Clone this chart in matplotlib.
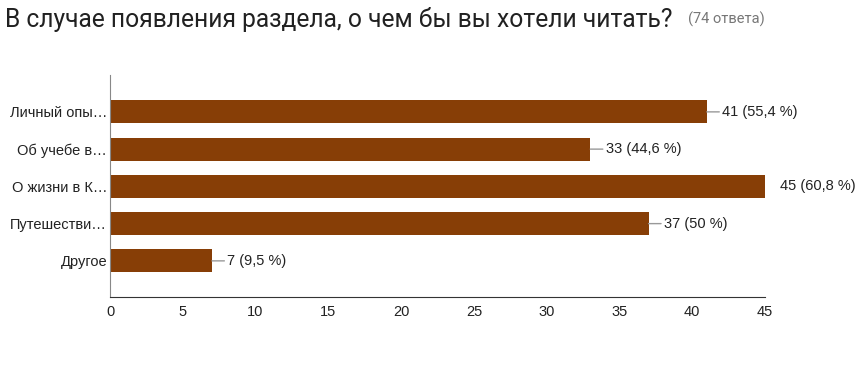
import matplotlib
matplotlib.use("Agg")
import matplotlib.pyplot as plt

# Data
categories = ["Личный опы…", "Об учебе в…", "О жизни в К…", "Путешестви…", "Другое"]
counts = [41, 33, 45, 37, 7]
percent_labels = ["55,4 %", "44,6 %", "60,8 %", "50 %", "9,5 %"]
xticks = [0, 5, 10, 15, 20, 25, 30, 35, 40, 45]

bar_color = "#873E06"
text_color = "#222222"

plt.rcParams['font.family'] = ['Liberation Sans', 'DejaVu Sans']

fig = plt.figure(figsize=(8.59, 3.69), dpi=100)
W, H = 859, 369
ax = fig.add_axes([110 / W, 1 - 297 / H, (765 - 110) / W, (297 - 75) / H])

ypos = list(range(len(categories)))
ax.barh(ypos, counts, height=0.62, color=bar_color, zorder=2)
ax.set_ylim(4.97, -0.99)
ax.set_xlim(0, 45)

# value labels with small grey leader lines
for y, c, p in zip(ypos, counts, percent_labels):
    if c >= 45:
        ax.annotate(f"{c} ({p})", xy=(c, y), xytext=(11, 0), textcoords="offset points",
                    va="center", ha="left", fontsize=10.5, color=text_color, annotation_clip=False)
    else:
        ax.annotate(f"{c} ({p})", xy=(c, y), xytext=(11, 0), textcoords="offset points",
                    va="center", ha="left", fontsize=10.5, color=text_color,
                    arrowprops=dict(arrowstyle="-", color="#999999", lw=1, shrinkA=0, shrinkB=0))

ax.set_yticks(ypos)
ax.set_yticklabels(categories, fontsize=10.5, color=text_color)
ax.set_xticks(xticks)
ax.set_xticklabels([str(t) for t in xticks], fontsize=10.5, color=text_color)
ax.tick_params(axis="both", length=0)
ax.tick_params(axis="y", pad=2)
ax.tick_params(axis="x", pad=6)

for side in ["top", "right"]:
    ax.spines[side].set_visible(False)
ax.spines["left"].set_color("#888888")
ax.spines["bottom"].set_color("#333333")

fig.text(5 / W, 1 - 20 / H, "В случае появления раздела, о чем бы вы хотели читать?",
         fontsize=17.7, family=["Roboto", "DejaVu Sans"], color="#212121", va="center", ha="left")
fig.text(688 / W, 1 - 19 / H, "(74 ответа)", fontsize=10.5, family=["Roboto", "DejaVu Sans"],
         color="#777777", va="center", ha="left")

fig.savefig("out.png", dpi=100)
